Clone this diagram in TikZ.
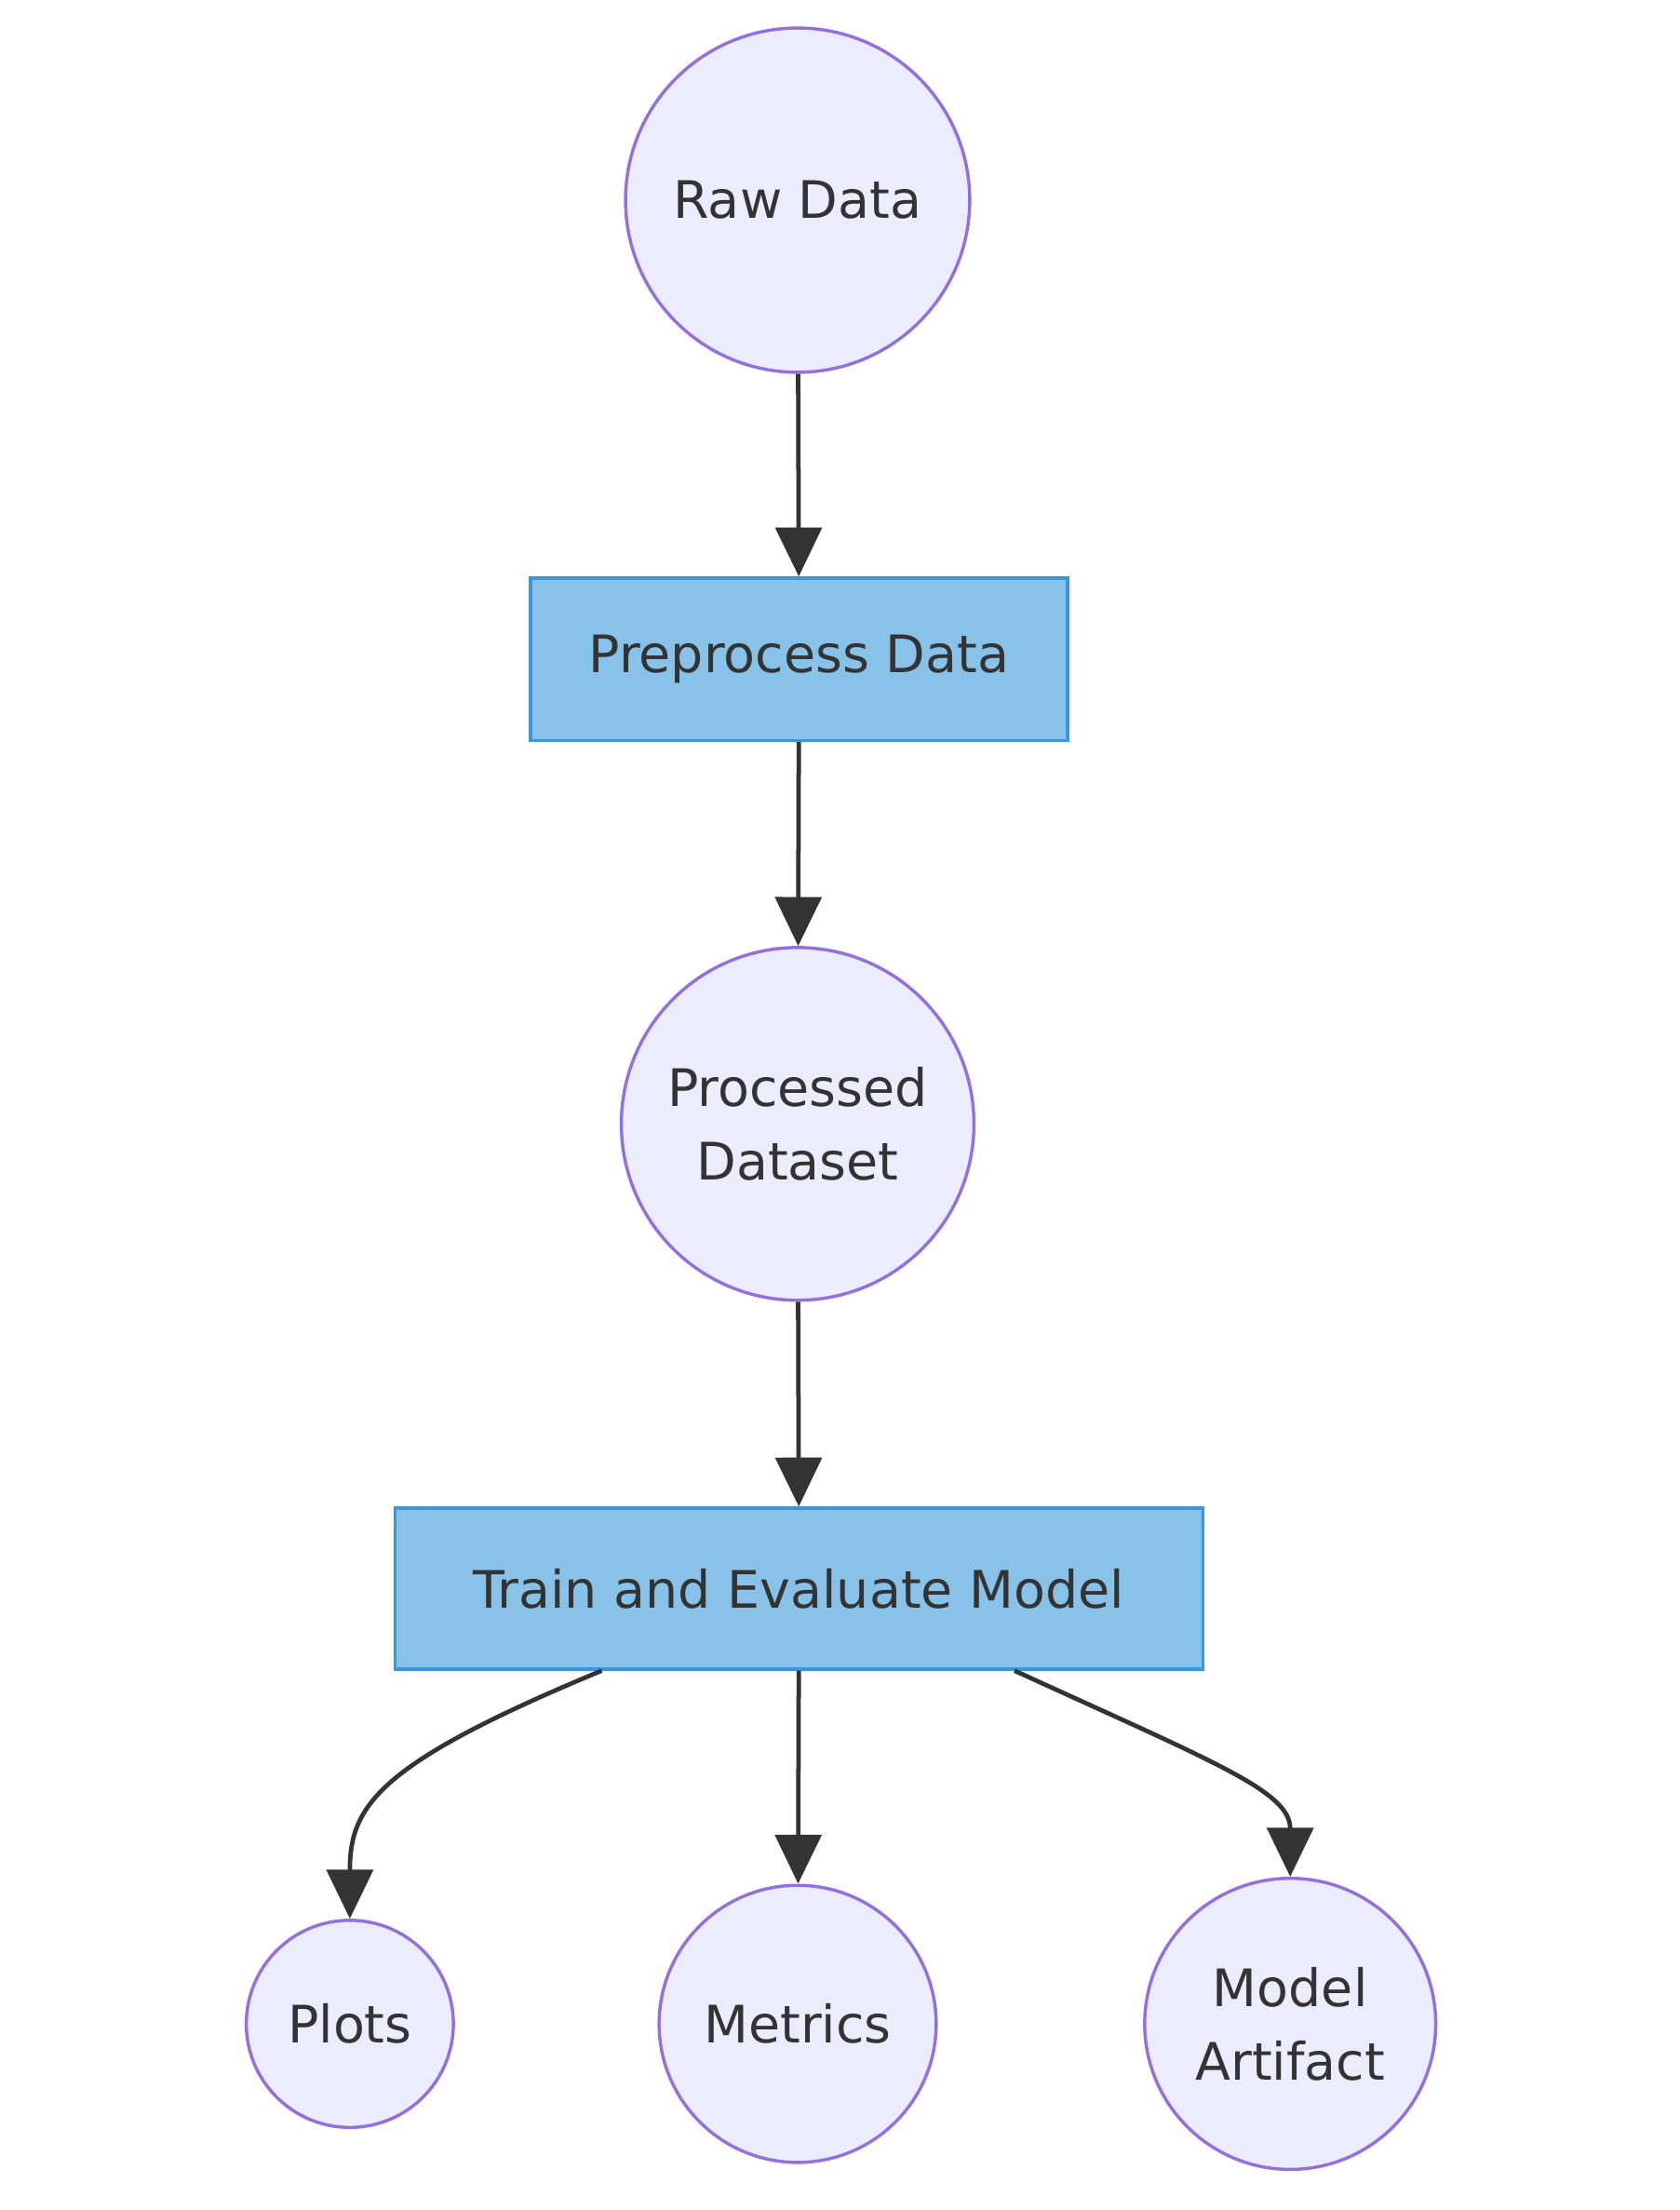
\documentclass[tikz,border=0pt]{standalone}
\usepackage{fontspec}
\setmainfont{DejaVu Sans}
\usetikzlibrary{positioning,arrows.meta}
\definecolor{circfill}{HTML}{ECECFF}
\definecolor{circline}{HTML}{9370DB}
\definecolor{boxfill}{HTML}{88C2E9}
\definecolor{boxline}{HTML}{3A96DD}
\definecolor{edgecol}{HTML}{333333}
\begin{document}
\begin{tikzpicture}[x=0.02cm, y=-0.02cm,
  every node/.style={font=\fontsize{21}{30}\selectfont, text=edgecol, align=center},
  data/.style={circle, draw=circline, fill=circfill, line width=1.3pt, inner sep=0pt},
  task/.style={rectangle, draw=boxline, fill=boxfill, line width=1.3pt, inner sep=0pt},
  edge/.style={draw=edgecol, line width=1.8pt,
    -{Triangle[length=0.7cm, width=0.66cm]}}]
  \useasboundingbox (0,0) rectangle (1200,1579);
  \node[data, minimum size=246*0.02cm] (raw) at (570,143) {Raw Data};
  \node[task, minimum width=384*0.02cm, minimum height=116*0.02cm] (prep) at (571,471) {Preprocess Data};
  \node[data, minimum size=252*0.02cm] (proc) at (570,803) {Processed\\Dataset};
  \node[task, minimum width=577*0.02cm, minimum height=115*0.02cm] (train) at (571,1135) {Train and Evaluate Model};
  \node[data, minimum size=148*0.02cm] (plots) at (250,1446) {Plots};
  \node[data, minimum size=198*0.02cm] (metrics) at (570,1446) {Metrics};
  \node[data, minimum size=208*0.02cm] (artifact) at (922,1446) {Model\\Artifact};

  \draw[edge] (raw) -- (prep);
  \draw[edge] (prep) -- (proc);
  \draw[edge] (proc) -- (train);
  \draw[edge] (train) -- (metrics);
  \draw[edge] ([xshift=-141*0.02cm]train.south) .. controls (270,1260) and (250,1290) .. (plots.north);
  \draw[edge] ([xshift=154*0.02cm]train.south) .. controls (870,1260) and (922,1280) .. (artifact.north);
\end{tikzpicture}
\end{document}
